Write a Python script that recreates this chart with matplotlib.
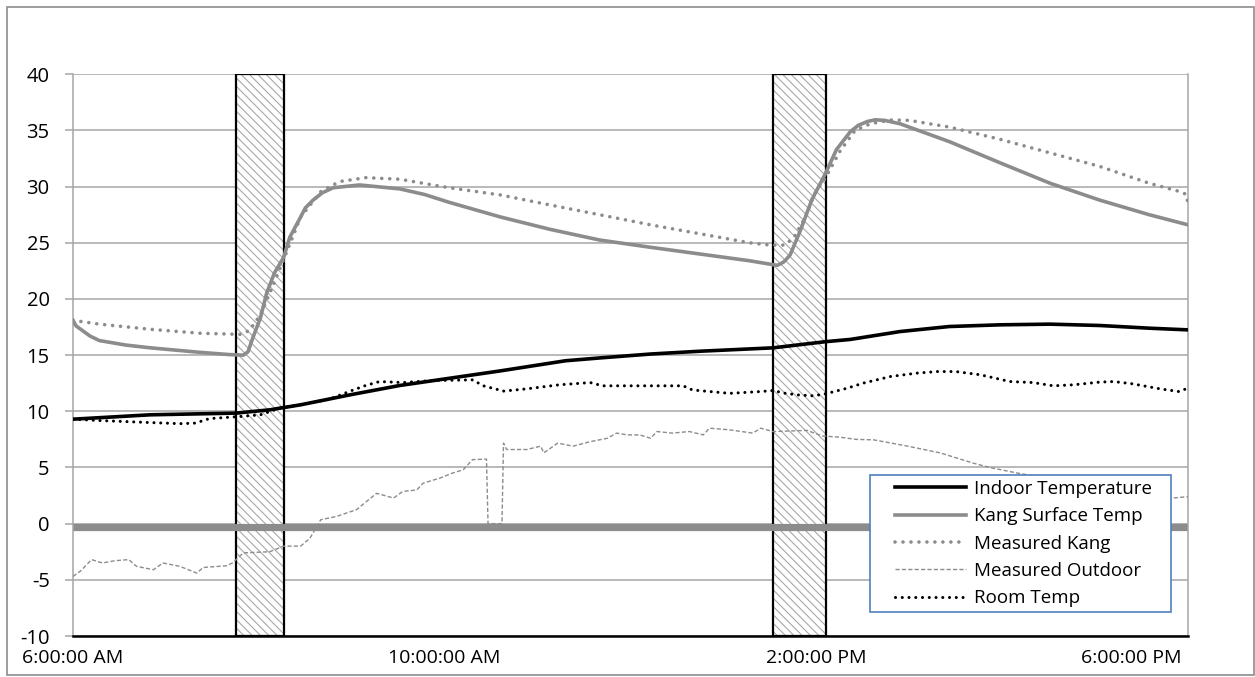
import matplotlib.pyplot as plt
import matplotlib.transforms as mtransforms
from matplotlib.patches import Rectangle

plt.rcParams['font.family'] = ['Open Sans', 'DejaVu Sans']
plt.rcParams['hatch.linewidth'] = 0.8
plt.rcParams['axes.unicode_minus'] = False

# all times are minutes after 6:00 AM
indoor_min = [0, 50, 105, 127, 147, 179, 211, 241, 276, 318,
              340, 373, 405, 452, 486, 502, 534, 566, 599, 631,
              663, 695, 720]
indoor_temp = [9.3, 9.69, 9.84, 10.13, 10.58, 11.47, 12.3, 12.9, 13.6, 14.5,
               14.75, 15.1, 15.35, 15.65, 16.2, 16.4, 17.1, 17.55, 17.7, 17.76,
               17.64, 17.4, 17.25]

kang_min = [0, 2, 5, 11, 17, 34, 50, 82, 101, 110,
            113, 116, 121, 125, 130, 136, 140, 147, 150, 155,
            161, 168, 185, 211, 227, 243, 276, 308, 340, 373,
            405, 437, 450, 455, 459, 463, 470, 477, 486, 493,
            502, 507, 513, 518, 524, 534, 566, 599, 631, 663,
            695, 720]
kang_temp = [18.1, 17.6, 17.3, 16.7, 16.3, 15.9, 15.65, 15.25, 15.05, 15.0,
             15.3, 16.5, 18.3, 20.5, 22.3, 23.7, 25.5, 27.3, 28.1, 28.8,
             29.45, 29.9, 30.15, 29.8, 29.3, 28.6, 27.3, 26.2, 25.25, 24.6,
             24.0, 23.4, 23.1, 23.0, 23.3, 23.9, 26.2, 28.8, 31.2, 33.3,
             34.9, 35.45, 35.8, 35.95, 35.9, 35.6, 34.0, 32.1, 30.3, 28.8,
             27.5, 26.6]

meas_kang_min = [0, 17, 50, 82, 108, 114, 121, 127, 136, 147,
                 160, 172, 189, 211, 243, 276, 308, 340, 373, 405,
                 437, 450, 460, 466, 473, 479, 486, 495, 505, 515,
                 528, 540, 566, 599, 631, 663, 695, 715, 719, 720]
meas_kang_temp = [18.1, 17.76, 17.3, 16.95, 16.85, 17.2, 18.6, 20.5, 23.5, 27.3,
                  29.55, 30.45, 30.8, 30.66, 29.9, 29.26, 28.37, 27.5, 26.6, 25.8,
                  25.0, 24.8, 24.8, 25.6, 27.3, 29.4, 30.8, 33.1, 35.0, 35.6,
                  35.93, 35.9, 35.3, 34.2, 33.0, 31.8, 30.3, 29.55, 29.3, 28.4]

outdoor_min = [0, 5, 12, 19, 27, 36, 41, 52, 58, 69,
               80, 84, 99, 103, 110, 127, 136, 147, 153, 160,
               170, 183, 196, 207, 213, 222, 226, 237, 245, 252,
               258, 267, 268, 277, 278, 280, 293, 302, 304, 313,
               323, 334, 345, 351, 358, 366, 373, 377, 387, 398,
               407, 411, 424, 439, 444, 452, 474, 484, 495, 506,
               517, 539, 560, 581, 592, 610, 631, 657, 683, 710,
               720]
outdoor_temp = [-4.7, -4.2, -3.2, -3.5, -3.3, -3.2, -3.8, -4.1, -3.5, -3.8,
                -4.4, -3.9, -3.75, -3.5, -2.6, -2.5, -2.0, -2.0, -1.3, 0.35,
                0.64, 1.24, 2.7, 2.28, 2.87, 3.0, 3.6, 4.06, 4.5, 4.8,
                5.7, 5.75, 0.0, 0.0, 7.17, 6.6, 6.6, 6.9, 6.3, 7.17,
                6.9, 7.3, 7.6, 8.06, 7.9, 7.9, 7.6, 8.2, 8.06, 8.2,
                7.9, 8.5, 8.35, 8.06, 8.5, 8.2, 8.3, 7.8, 7.7, 7.5,
                7.46, 6.9, 6.3, 5.4, 5.0, 4.5, 4.0, 3.4, 2.8, 2.28,
                2.4]

room_min = [0, 17, 50, 69, 79, 88, 108, 121, 134, 153,
            166, 179, 189, 198, 213, 232, 258, 265, 278, 293,
            314, 334, 342, 368, 394, 400, 424, 444, 452, 460,
            469, 478, 486, 500, 510, 528, 545, 558, 570, 586,
            605, 620, 633, 646, 663, 672, 684, 702, 714, 720]
room_temp = [9.3, 9.18, 9.0, 8.9, 8.95, 9.35, 9.54, 9.69, 10.3, 10.73,
             11.1, 11.8, 12.3, 12.65, 12.56, 12.74, 12.8, 12.27, 11.8, 12.0,
             12.36, 12.56, 12.27, 12.27, 12.27, 11.9, 11.6, 11.76, 11.85, 11.6,
             11.45, 11.38, 11.56, 12.06, 12.5, 13.1, 13.4, 13.54, 13.54, 13.25,
             12.65, 12.56, 12.27, 12.36, 12.6, 12.65, 12.45, 12.0, 11.76, 12.06]

# firing periods of the kang stove (start, end)
firing_min = [(105, 136), (452, 486)]

tick_hours = [6, 10, 14, 18]
tick_labels = ["6:00:00 AM", "10:00:00 AM", "2:00:00 PM", "6:00:00 PM"]


def hours(minutes):
  return [6 + m / 60 for m in minutes]


gray = '#8c8c8c'
grid_gray = '#a6a6a6'

fig = plt.figure(figsize=(12.55, 6.77), dpi=100)
ax = fig.add_axes([73 / 1255, 41 / 677, 1115 / 1255, 561.7 / 677])

fig.patches.append(Rectangle((7 / 1255, 2 / 677), 1247 / 1255, 668 / 677,
                             transform=fig.transFigure, fill=False,
                             edgecolor=gray, lw=1.2))

for start, end in firing_min:
  ax.axvspan(6 + start / 60, 6 + end / 60, facecolor='white',
             edgecolor='#a8a8a8', hatch='\\\\\\\\', lw=0, zorder=1.5)
  ax.axvspan(6 + start / 60, 6 + end / 60, fill=False, edgecolor='black',
             lw=1.6, zorder=1.6)

ax.axhline(-0.3, color=gray, lw=5.2, zorder=2)

ax.plot(hours(indoor_min), indoor_temp, color='black', lw=2.6,
        label='Indoor Temperature', zorder=3.4)
ax.plot(hours(kang_min), kang_temp, color=gray, lw=2.6,
        label='Kang Surface Temp', zorder=3.2)
ax.plot(hours(meas_kang_min), meas_kang_temp, color=gray, lw=2.6,
        linestyle=(0, (0.01, 2.2)), dash_capstyle='round',
        label='Measured Kang', zorder=3.1)
ax.plot(hours(outdoor_min), outdoor_temp, color=gray, lw=1.0,
        linestyle=(0, (3, 1.6)), label='Measured Outdoor', zorder=3)
ax.plot(hours(room_min), room_temp, color='black', lw=2.2,
        linestyle=(0, (0.01, 2.2)), dash_capstyle='round',
        label='Room Temp', zorder=3.3)

ax.set_xlim(6, 18)
ax.set_ylim(-10, 40)
ax.set_yticks(range(-10, 41, 5))
ax.yaxis.grid(True, color=grid_gray, lw=1.1)
ax.set_axisbelow(True)
ax.tick_params(axis='y', length=5.8, width=1.1, color=grid_gray, pad=11,
               labelsize=14.5)
ax.set_xticks(tick_hours)
ax.set_xticklabels(tick_labels)
ax.tick_params(axis='x', length=0, pad=9.5, labelsize=14)

last = ax.get_xticklabels()[-1]
last.set_horizontalalignment('right')
last.set_transform(last.get_transform() +
                   mtransforms.ScaledTranslation(-0.06, 0, fig.dpi_scale_trans))

ax.spines['top'].set_visible(False)
ax.spines['left'].set_color(grid_gray)
ax.spines['left'].set_linewidth(1.1)
ax.spines['right'].set_color(grid_gray)
ax.spines['right'].set_linewidth(1.1)
ax.spines['bottom'].set_color('black')
ax.spines['bottom'].set_linewidth(1.8)

# legend box drawn separately so the padding can be wider than tall
ax.add_patch(Rectangle((0.7148, 0.0427), 0.27, 0.2439, transform=ax.transAxes,
                       facecolor='white', edgecolor='#4f81bd', lw=1.2,
                       zorder=4))
leg = ax.legend(loc='upper left', bbox_to_anchor=(0.7372, 0.2780),
                frameon=False, fontsize=13.5, borderpad=0, borderaxespad=0,
                handlelength=3.8, handletextpad=0.4, labelspacing=0.5)
leg.set_zorder(5)

fig.savefig('out.png', dpi=100)
